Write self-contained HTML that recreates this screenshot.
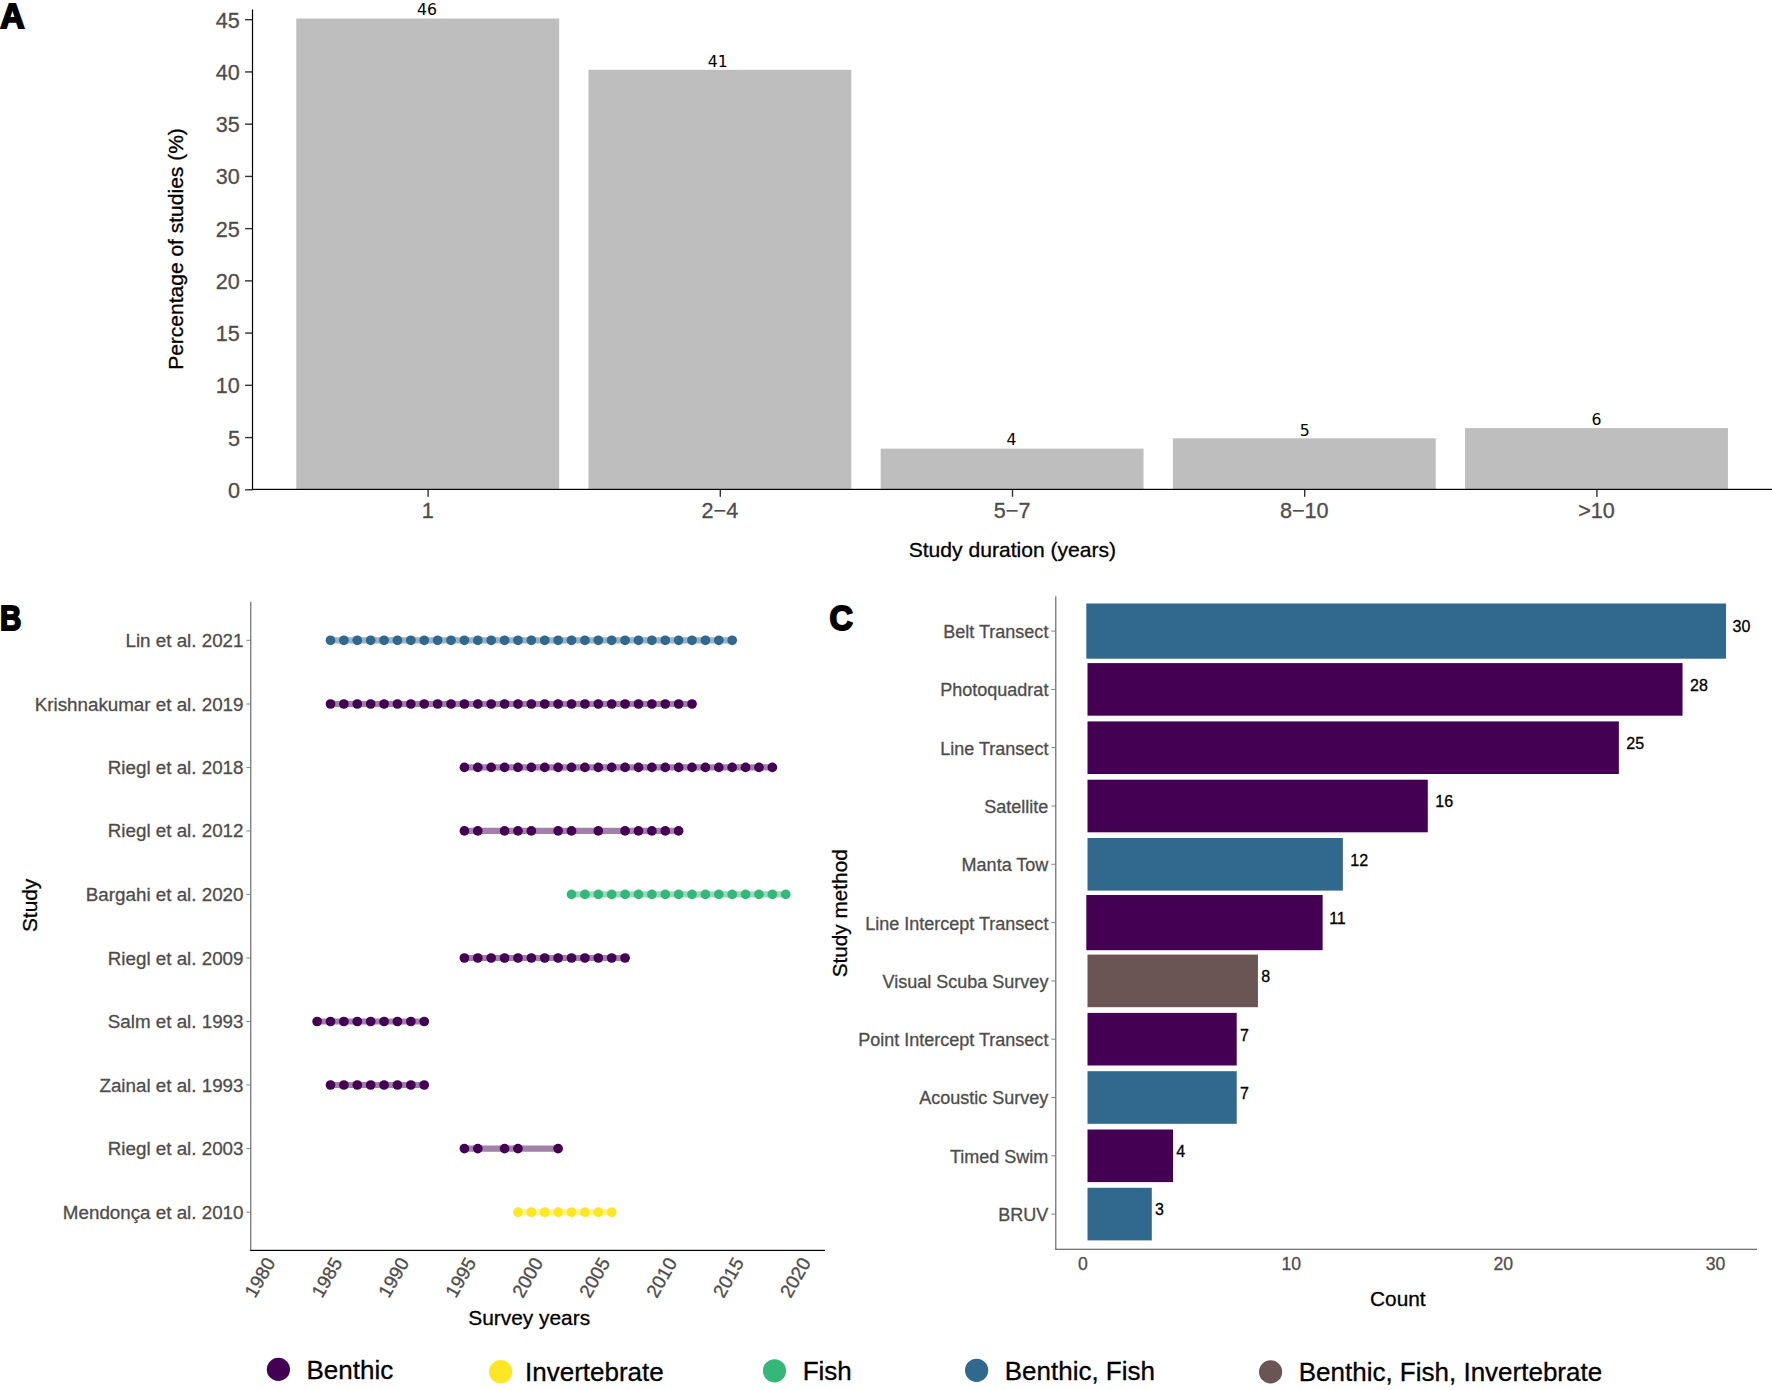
<!DOCTYPE html>
<html lang="en">
<head>
<meta charset="utf-8">
<title>Study duration, survey years and study methods</title>
<style>
html,body{margin:0;padding:0;background:#ffffff;}
body{width:1772px;height:1390px;overflow:hidden;font-family:"Liberation Sans", Arial, Helvetica, sans-serif;}
svg{display:block;}
text{white-space:pre;}
g text[fill="#4d4d4d"]{stroke:#4d4d4d;stroke-width:0.3px;}
g text[fill="#000"]{stroke:#000;stroke-width:0.3px;}
</style>
</head>
<body>
<svg width="1772" height="1390" viewBox="0 0 1772 1390">
<rect x="0" y="0" width="1772" height="1390" fill="#ffffff"/>
<g id="panelA">
<rect x="296.25" y="18.50" width="262.90" height="470.90" fill="#bebebe"/>
<text x="427.10" y="15.30" text-anchor="middle" font-family='"DejaVu Sans", Verdana, sans-serif' font-size="15.7" fill="#000000">46</text>
<rect x="427.40" y="489.40" width="1.4" height="7.4" fill="#333"/>
<text x="427.70" y="518.0" text-anchor="middle" font-family='"Liberation Sans", Arial, Helvetica, sans-serif' font-size="21.6" fill="#4d4d4d">1</text>
<rect x="588.45" y="69.80" width="262.90" height="419.60" fill="#bebebe"/>
<text x="717.80" y="67.00" text-anchor="middle" font-family='"DejaVu Sans", Verdana, sans-serif' font-size="15.7" fill="#000000">41</text>
<rect x="719.60" y="489.40" width="1.4" height="7.4" fill="#333"/>
<text x="719.90" y="518.0" text-anchor="middle" font-family='"Liberation Sans", Arial, Helvetica, sans-serif' font-size="21.6" fill="#4d4d4d">2−4</text>
<rect x="880.65" y="448.60" width="262.90" height="40.80" fill="#bebebe"/>
<text x="1011.40" y="445.10" text-anchor="middle" font-family='"DejaVu Sans", Verdana, sans-serif' font-size="15.7" fill="#000000">4</text>
<rect x="1011.80" y="489.40" width="1.4" height="7.4" fill="#333"/>
<text x="1012.10" y="518.0" text-anchor="middle" font-family='"Liberation Sans", Arial, Helvetica, sans-serif' font-size="21.6" fill="#4d4d4d">5−7</text>
<rect x="1172.85" y="438.30" width="262.90" height="51.10" fill="#bebebe"/>
<text x="1304.80" y="435.90" text-anchor="middle" font-family='"DejaVu Sans", Verdana, sans-serif' font-size="15.7" fill="#000000">5</text>
<rect x="1304.00" y="489.40" width="1.4" height="7.4" fill="#333"/>
<text x="1304.30" y="518.0" text-anchor="middle" font-family='"Liberation Sans", Arial, Helvetica, sans-serif' font-size="21.6" fill="#4d4d4d">8−10</text>
<rect x="1465.05" y="428.10" width="262.90" height="61.30" fill="#bebebe"/>
<text x="1596.60" y="425.10" text-anchor="middle" font-family='"DejaVu Sans", Verdana, sans-serif' font-size="15.7" fill="#000000">6</text>
<rect x="1596.20" y="489.40" width="1.4" height="7.4" fill="#333"/>
<text x="1596.50" y="518.0" text-anchor="middle" font-family='"Liberation Sans", Arial, Helvetica, sans-serif' font-size="21.6" fill="#4d4d4d">>10</text>
<rect x="245.1" y="489.10" width="7.4" height="1.4" fill="#333"/>
<text x="239.9" y="497.80" text-anchor="end" font-family='"Liberation Sans", Arial, Helvetica, sans-serif' font-size="21.6" fill="#4d4d4d">0</text>
<rect x="245.1" y="436.87" width="7.4" height="1.4" fill="#333"/>
<text x="239.9" y="445.57" text-anchor="end" font-family='"Liberation Sans", Arial, Helvetica, sans-serif' font-size="21.6" fill="#4d4d4d">5</text>
<rect x="245.1" y="384.63" width="7.4" height="1.4" fill="#333"/>
<text x="239.9" y="393.33" text-anchor="end" font-family='"Liberation Sans", Arial, Helvetica, sans-serif' font-size="21.6" fill="#4d4d4d">10</text>
<rect x="245.1" y="332.40" width="7.4" height="1.4" fill="#333"/>
<text x="239.9" y="341.10" text-anchor="end" font-family='"Liberation Sans", Arial, Helvetica, sans-serif' font-size="21.6" fill="#4d4d4d">15</text>
<rect x="245.1" y="280.17" width="7.4" height="1.4" fill="#333"/>
<text x="239.9" y="288.87" text-anchor="end" font-family='"Liberation Sans", Arial, Helvetica, sans-serif' font-size="21.6" fill="#4d4d4d">20</text>
<rect x="245.1" y="227.93" width="7.4" height="1.4" fill="#333"/>
<text x="239.9" y="236.63" text-anchor="end" font-family='"Liberation Sans", Arial, Helvetica, sans-serif' font-size="21.6" fill="#4d4d4d">25</text>
<rect x="245.1" y="175.70" width="7.4" height="1.4" fill="#333"/>
<text x="239.9" y="184.40" text-anchor="end" font-family='"Liberation Sans", Arial, Helvetica, sans-serif' font-size="21.6" fill="#4d4d4d">30</text>
<rect x="245.1" y="123.47" width="7.4" height="1.4" fill="#333"/>
<text x="239.9" y="132.17" text-anchor="end" font-family='"Liberation Sans", Arial, Helvetica, sans-serif' font-size="21.6" fill="#4d4d4d">35</text>
<rect x="245.1" y="71.23" width="7.4" height="1.4" fill="#333"/>
<text x="239.9" y="79.93" text-anchor="end" font-family='"Liberation Sans", Arial, Helvetica, sans-serif' font-size="21.6" fill="#4d4d4d">40</text>
<rect x="245.1" y="19.00" width="7.4" height="1.4" fill="#333"/>
<text x="239.9" y="27.70" text-anchor="end" font-family='"Liberation Sans", Arial, Helvetica, sans-serif' font-size="21.6" fill="#4d4d4d">45</text>
<rect x="251.9" y="9.5" width="1.2" height="480.50" fill="#000"/>
<rect x="251.9" y="488.80" width="1520.10" height="1.2" fill="#000"/>
<text x="1012.4" y="556.9" text-anchor="middle" font-family='"Liberation Sans", Arial, Helvetica, sans-serif' font-size="21.1" fill="#000">Study duration (years)</text>
<text transform="translate(183.4,249.0) rotate(-90)" text-anchor="middle" font-family='"Liberation Sans", Arial, Helvetica, sans-serif' font-size="21.0" fill="#000">Percentage of studies (%)</text>
</g>
<text transform="translate(0.2,27.9) scale(0.97,1)" font-family='"Liberation Sans", Arial, Helvetica, sans-serif' font-weight="bold" font-size="34.7" fill="#000" stroke="#000" stroke-width="2.0" stroke-linejoin="miter">A</text>
<text transform="translate(-0.1,630.3) scale(0.84,1)" font-family='"Liberation Sans", Arial, Helvetica, sans-serif' font-weight="bold" font-size="35.2" fill="#000" stroke="#000" stroke-width="2.0" stroke-linejoin="miter">B</text>
<text transform="translate(829.4,630.2) scale(0.93,1)" font-family='"Liberation Sans", Arial, Helvetica, sans-serif' font-weight="bold" font-size="34.9" fill="#000" stroke="#000" stroke-width="2.0" stroke-linejoin="miter">C</text>
<g id="panelB">
<line x1="330.50" y1="640.3" x2="732.20" y2="640.3" stroke="#31688e" stroke-opacity="0.5" stroke-width="6.2"/>
<circle cx="330.50" cy="640.3" r="4.85" fill="#31688e"/>
<circle cx="343.89" cy="640.3" r="4.85" fill="#31688e"/>
<circle cx="357.28" cy="640.3" r="4.85" fill="#31688e"/>
<circle cx="370.67" cy="640.3" r="4.85" fill="#31688e"/>
<circle cx="384.06" cy="640.3" r="4.85" fill="#31688e"/>
<circle cx="397.45" cy="640.3" r="4.85" fill="#31688e"/>
<circle cx="410.84" cy="640.3" r="4.85" fill="#31688e"/>
<circle cx="424.23" cy="640.3" r="4.85" fill="#31688e"/>
<circle cx="437.62" cy="640.3" r="4.85" fill="#31688e"/>
<circle cx="451.01" cy="640.3" r="4.85" fill="#31688e"/>
<circle cx="464.40" cy="640.3" r="4.85" fill="#31688e"/>
<circle cx="477.79" cy="640.3" r="4.85" fill="#31688e"/>
<circle cx="491.18" cy="640.3" r="4.85" fill="#31688e"/>
<circle cx="504.57" cy="640.3" r="4.85" fill="#31688e"/>
<circle cx="517.96" cy="640.3" r="4.85" fill="#31688e"/>
<circle cx="531.35" cy="640.3" r="4.85" fill="#31688e"/>
<circle cx="544.74" cy="640.3" r="4.85" fill="#31688e"/>
<circle cx="558.13" cy="640.3" r="4.85" fill="#31688e"/>
<circle cx="571.52" cy="640.3" r="4.85" fill="#31688e"/>
<circle cx="584.91" cy="640.3" r="4.85" fill="#31688e"/>
<circle cx="598.30" cy="640.3" r="4.85" fill="#31688e"/>
<circle cx="611.69" cy="640.3" r="4.85" fill="#31688e"/>
<circle cx="625.08" cy="640.3" r="4.85" fill="#31688e"/>
<circle cx="638.47" cy="640.3" r="4.85" fill="#31688e"/>
<circle cx="651.86" cy="640.3" r="4.85" fill="#31688e"/>
<circle cx="665.25" cy="640.3" r="4.85" fill="#31688e"/>
<circle cx="678.64" cy="640.3" r="4.85" fill="#31688e"/>
<circle cx="692.03" cy="640.3" r="4.85" fill="#31688e"/>
<circle cx="705.42" cy="640.3" r="4.85" fill="#31688e"/>
<circle cx="718.81" cy="640.3" r="4.85" fill="#31688e"/>
<circle cx="732.20" cy="640.3" r="4.85" fill="#31688e"/>
<rect x="246.3" y="639.80" width="4.2" height="1" fill="#888"/>
<text x="243.5" y="646.80" text-anchor="end" font-family='"Liberation Sans", Arial, Helvetica, sans-serif' font-size="18.8" fill="#4d4d4d">Lin et al. 2021</text>
<line x1="330.50" y1="704.0" x2="692.03" y2="704.0" stroke="#440154" stroke-opacity="0.5" stroke-width="6.2"/>
<circle cx="330.50" cy="704.0" r="4.85" fill="#440154"/>
<circle cx="343.89" cy="704.0" r="4.85" fill="#440154"/>
<circle cx="357.28" cy="704.0" r="4.85" fill="#440154"/>
<circle cx="370.67" cy="704.0" r="4.85" fill="#440154"/>
<circle cx="384.06" cy="704.0" r="4.85" fill="#440154"/>
<circle cx="397.45" cy="704.0" r="4.85" fill="#440154"/>
<circle cx="410.84" cy="704.0" r="4.85" fill="#440154"/>
<circle cx="424.23" cy="704.0" r="4.85" fill="#440154"/>
<circle cx="437.62" cy="704.0" r="4.85" fill="#440154"/>
<circle cx="451.01" cy="704.0" r="4.85" fill="#440154"/>
<circle cx="464.40" cy="704.0" r="4.85" fill="#440154"/>
<circle cx="477.79" cy="704.0" r="4.85" fill="#440154"/>
<circle cx="491.18" cy="704.0" r="4.85" fill="#440154"/>
<circle cx="504.57" cy="704.0" r="4.85" fill="#440154"/>
<circle cx="517.96" cy="704.0" r="4.85" fill="#440154"/>
<circle cx="531.35" cy="704.0" r="4.85" fill="#440154"/>
<circle cx="544.74" cy="704.0" r="4.85" fill="#440154"/>
<circle cx="558.13" cy="704.0" r="4.85" fill="#440154"/>
<circle cx="571.52" cy="704.0" r="4.85" fill="#440154"/>
<circle cx="584.91" cy="704.0" r="4.85" fill="#440154"/>
<circle cx="598.30" cy="704.0" r="4.85" fill="#440154"/>
<circle cx="611.69" cy="704.0" r="4.85" fill="#440154"/>
<circle cx="625.08" cy="704.0" r="4.85" fill="#440154"/>
<circle cx="638.47" cy="704.0" r="4.85" fill="#440154"/>
<circle cx="651.86" cy="704.0" r="4.85" fill="#440154"/>
<circle cx="665.25" cy="704.0" r="4.85" fill="#440154"/>
<circle cx="678.64" cy="704.0" r="4.85" fill="#440154"/>
<circle cx="692.03" cy="704.0" r="4.85" fill="#440154"/>
<rect x="246.3" y="703.50" width="4.2" height="1" fill="#888"/>
<text x="243.5" y="710.50" text-anchor="end" font-family='"Liberation Sans", Arial, Helvetica, sans-serif' font-size="18.8" fill="#4d4d4d">Krishnakumar et al. 2019</text>
<line x1="464.40" y1="767.4" x2="772.37" y2="767.4" stroke="#440154" stroke-opacity="0.5" stroke-width="6.2"/>
<circle cx="464.40" cy="767.4" r="4.85" fill="#440154"/>
<circle cx="477.79" cy="767.4" r="4.85" fill="#440154"/>
<circle cx="491.18" cy="767.4" r="4.85" fill="#440154"/>
<circle cx="504.57" cy="767.4" r="4.85" fill="#440154"/>
<circle cx="517.96" cy="767.4" r="4.85" fill="#440154"/>
<circle cx="531.35" cy="767.4" r="4.85" fill="#440154"/>
<circle cx="544.74" cy="767.4" r="4.85" fill="#440154"/>
<circle cx="558.13" cy="767.4" r="4.85" fill="#440154"/>
<circle cx="571.52" cy="767.4" r="4.85" fill="#440154"/>
<circle cx="584.91" cy="767.4" r="4.85" fill="#440154"/>
<circle cx="598.30" cy="767.4" r="4.85" fill="#440154"/>
<circle cx="611.69" cy="767.4" r="4.85" fill="#440154"/>
<circle cx="625.08" cy="767.4" r="4.85" fill="#440154"/>
<circle cx="638.47" cy="767.4" r="4.85" fill="#440154"/>
<circle cx="651.86" cy="767.4" r="4.85" fill="#440154"/>
<circle cx="665.25" cy="767.4" r="4.85" fill="#440154"/>
<circle cx="678.64" cy="767.4" r="4.85" fill="#440154"/>
<circle cx="692.03" cy="767.4" r="4.85" fill="#440154"/>
<circle cx="705.42" cy="767.4" r="4.85" fill="#440154"/>
<circle cx="718.81" cy="767.4" r="4.85" fill="#440154"/>
<circle cx="732.20" cy="767.4" r="4.85" fill="#440154"/>
<circle cx="745.59" cy="767.4" r="4.85" fill="#440154"/>
<circle cx="758.98" cy="767.4" r="4.85" fill="#440154"/>
<circle cx="772.37" cy="767.4" r="4.85" fill="#440154"/>
<rect x="246.3" y="766.90" width="4.2" height="1" fill="#888"/>
<text x="243.5" y="773.90" text-anchor="end" font-family='"Liberation Sans", Arial, Helvetica, sans-serif' font-size="18.8" fill="#4d4d4d">Riegl et al. 2018</text>
<line x1="464.40" y1="830.9" x2="678.64" y2="830.9" stroke="#440154" stroke-opacity="0.5" stroke-width="6.2"/>
<circle cx="464.40" cy="830.9" r="4.85" fill="#440154"/>
<circle cx="477.79" cy="830.9" r="4.85" fill="#440154"/>
<circle cx="504.57" cy="830.9" r="4.85" fill="#440154"/>
<circle cx="517.96" cy="830.9" r="4.85" fill="#440154"/>
<circle cx="531.35" cy="830.9" r="4.85" fill="#440154"/>
<circle cx="558.13" cy="830.9" r="4.85" fill="#440154"/>
<circle cx="571.52" cy="830.9" r="4.85" fill="#440154"/>
<circle cx="598.30" cy="830.9" r="4.85" fill="#440154"/>
<circle cx="625.08" cy="830.9" r="4.85" fill="#440154"/>
<circle cx="638.47" cy="830.9" r="4.85" fill="#440154"/>
<circle cx="651.86" cy="830.9" r="4.85" fill="#440154"/>
<circle cx="665.25" cy="830.9" r="4.85" fill="#440154"/>
<circle cx="678.64" cy="830.9" r="4.85" fill="#440154"/>
<rect x="246.3" y="830.40" width="4.2" height="1" fill="#888"/>
<text x="243.5" y="837.40" text-anchor="end" font-family='"Liberation Sans", Arial, Helvetica, sans-serif' font-size="18.8" fill="#4d4d4d">Riegl et al. 2012</text>
<line x1="571.52" y1="894.4" x2="785.76" y2="894.4" stroke="#35b779" stroke-opacity="0.5" stroke-width="6.2"/>
<circle cx="571.52" cy="894.4" r="4.85" fill="#35b779"/>
<circle cx="584.91" cy="894.4" r="4.85" fill="#35b779"/>
<circle cx="598.30" cy="894.4" r="4.85" fill="#35b779"/>
<circle cx="611.69" cy="894.4" r="4.85" fill="#35b779"/>
<circle cx="625.08" cy="894.4" r="4.85" fill="#35b779"/>
<circle cx="638.47" cy="894.4" r="4.85" fill="#35b779"/>
<circle cx="651.86" cy="894.4" r="4.85" fill="#35b779"/>
<circle cx="665.25" cy="894.4" r="4.85" fill="#35b779"/>
<circle cx="678.64" cy="894.4" r="4.85" fill="#35b779"/>
<circle cx="692.03" cy="894.4" r="4.85" fill="#35b779"/>
<circle cx="705.42" cy="894.4" r="4.85" fill="#35b779"/>
<circle cx="718.81" cy="894.4" r="4.85" fill="#35b779"/>
<circle cx="732.20" cy="894.4" r="4.85" fill="#35b779"/>
<circle cx="745.59" cy="894.4" r="4.85" fill="#35b779"/>
<circle cx="758.98" cy="894.4" r="4.85" fill="#35b779"/>
<circle cx="772.37" cy="894.4" r="4.85" fill="#35b779"/>
<circle cx="785.76" cy="894.4" r="4.85" fill="#35b779"/>
<rect x="246.3" y="893.90" width="4.2" height="1" fill="#888"/>
<text x="243.5" y="900.90" text-anchor="end" font-family='"Liberation Sans", Arial, Helvetica, sans-serif' font-size="18.8" fill="#4d4d4d">Bargahi et al. 2020</text>
<line x1="464.40" y1="958.0" x2="625.08" y2="958.0" stroke="#440154" stroke-opacity="0.5" stroke-width="6.2"/>
<circle cx="464.40" cy="958.0" r="4.85" fill="#440154"/>
<circle cx="477.79" cy="958.0" r="4.85" fill="#440154"/>
<circle cx="491.18" cy="958.0" r="4.85" fill="#440154"/>
<circle cx="504.57" cy="958.0" r="4.85" fill="#440154"/>
<circle cx="517.96" cy="958.0" r="4.85" fill="#440154"/>
<circle cx="531.35" cy="958.0" r="4.85" fill="#440154"/>
<circle cx="544.74" cy="958.0" r="4.85" fill="#440154"/>
<circle cx="558.13" cy="958.0" r="4.85" fill="#440154"/>
<circle cx="571.52" cy="958.0" r="4.85" fill="#440154"/>
<circle cx="584.91" cy="958.0" r="4.85" fill="#440154"/>
<circle cx="598.30" cy="958.0" r="4.85" fill="#440154"/>
<circle cx="611.69" cy="958.0" r="4.85" fill="#440154"/>
<circle cx="625.08" cy="958.0" r="4.85" fill="#440154"/>
<rect x="246.3" y="957.50" width="4.2" height="1" fill="#888"/>
<text x="243.5" y="964.50" text-anchor="end" font-family='"Liberation Sans", Arial, Helvetica, sans-serif' font-size="18.8" fill="#4d4d4d">Riegl et al. 2009</text>
<line x1="317.11" y1="1021.5" x2="424.23" y2="1021.5" stroke="#440154" stroke-opacity="0.5" stroke-width="6.2"/>
<circle cx="317.11" cy="1021.5" r="4.85" fill="#440154"/>
<circle cx="330.50" cy="1021.5" r="4.85" fill="#440154"/>
<circle cx="343.89" cy="1021.5" r="4.85" fill="#440154"/>
<circle cx="357.28" cy="1021.5" r="4.85" fill="#440154"/>
<circle cx="370.67" cy="1021.5" r="4.85" fill="#440154"/>
<circle cx="384.06" cy="1021.5" r="4.85" fill="#440154"/>
<circle cx="397.45" cy="1021.5" r="4.85" fill="#440154"/>
<circle cx="410.84" cy="1021.5" r="4.85" fill="#440154"/>
<circle cx="424.23" cy="1021.5" r="4.85" fill="#440154"/>
<rect x="246.3" y="1021.00" width="4.2" height="1" fill="#888"/>
<text x="243.5" y="1028.00" text-anchor="end" font-family='"Liberation Sans", Arial, Helvetica, sans-serif' font-size="18.8" fill="#4d4d4d">Salm et al. 1993</text>
<line x1="330.50" y1="1085.0" x2="424.23" y2="1085.0" stroke="#440154" stroke-opacity="0.5" stroke-width="6.2"/>
<circle cx="330.50" cy="1085.0" r="4.85" fill="#440154"/>
<circle cx="343.89" cy="1085.0" r="4.85" fill="#440154"/>
<circle cx="357.28" cy="1085.0" r="4.85" fill="#440154"/>
<circle cx="370.67" cy="1085.0" r="4.85" fill="#440154"/>
<circle cx="384.06" cy="1085.0" r="4.85" fill="#440154"/>
<circle cx="397.45" cy="1085.0" r="4.85" fill="#440154"/>
<circle cx="410.84" cy="1085.0" r="4.85" fill="#440154"/>
<circle cx="424.23" cy="1085.0" r="4.85" fill="#440154"/>
<rect x="246.3" y="1084.50" width="4.2" height="1" fill="#888"/>
<text x="243.5" y="1091.50" text-anchor="end" font-family='"Liberation Sans", Arial, Helvetica, sans-serif' font-size="18.8" fill="#4d4d4d">Zainal et al. 1993</text>
<line x1="464.40" y1="1148.6" x2="558.13" y2="1148.6" stroke="#440154" stroke-opacity="0.5" stroke-width="6.2"/>
<circle cx="464.40" cy="1148.6" r="4.85" fill="#440154"/>
<circle cx="477.79" cy="1148.6" r="4.85" fill="#440154"/>
<circle cx="504.57" cy="1148.6" r="4.85" fill="#440154"/>
<circle cx="517.96" cy="1148.6" r="4.85" fill="#440154"/>
<circle cx="558.13" cy="1148.6" r="4.85" fill="#440154"/>
<rect x="246.3" y="1148.10" width="4.2" height="1" fill="#888"/>
<text x="243.5" y="1155.10" text-anchor="end" font-family='"Liberation Sans", Arial, Helvetica, sans-serif' font-size="18.8" fill="#4d4d4d">Riegl et al. 2003</text>
<line x1="517.96" y1="1212.2" x2="611.69" y2="1212.2" stroke="#fde725" stroke-opacity="0.5" stroke-width="6.2"/>
<circle cx="517.96" cy="1212.2" r="4.85" fill="#fde725"/>
<circle cx="531.35" cy="1212.2" r="4.85" fill="#fde725"/>
<circle cx="544.74" cy="1212.2" r="4.85" fill="#fde725"/>
<circle cx="558.13" cy="1212.2" r="4.85" fill="#fde725"/>
<circle cx="571.52" cy="1212.2" r="4.85" fill="#fde725"/>
<circle cx="584.91" cy="1212.2" r="4.85" fill="#fde725"/>
<circle cx="598.30" cy="1212.2" r="4.85" fill="#fde725"/>
<circle cx="611.69" cy="1212.2" r="4.85" fill="#fde725"/>
<rect x="246.3" y="1211.70" width="4.2" height="1" fill="#888"/>
<text x="243.5" y="1218.70" text-anchor="end" font-family='"Liberation Sans", Arial, Helvetica, sans-serif' font-size="18.8" fill="#4d4d4d">Mendonça et al. 2010</text>
<rect x="250.2" y="601.8" width="1.15" height="648.60" fill="#666"/>
<rect x="250.2" y="1249.80" width="574.80" height="1.2" fill="#000"/>
<text transform="translate(264.35,1255.8) rotate(-60)" text-anchor="end" dy="13.4" font-family='"Liberation Sans", Arial, Helvetica, sans-serif' font-size="18.9" fill="#4d4d4d">1980</text>
<text transform="translate(331.30,1255.8) rotate(-60)" text-anchor="end" dy="13.4" font-family='"Liberation Sans", Arial, Helvetica, sans-serif' font-size="18.9" fill="#4d4d4d">1985</text>
<text transform="translate(398.25,1255.8) rotate(-60)" text-anchor="end" dy="13.4" font-family='"Liberation Sans", Arial, Helvetica, sans-serif' font-size="18.9" fill="#4d4d4d">1990</text>
<text transform="translate(465.20,1255.8) rotate(-60)" text-anchor="end" dy="13.4" font-family='"Liberation Sans", Arial, Helvetica, sans-serif' font-size="18.9" fill="#4d4d4d">1995</text>
<text transform="translate(532.15,1255.8) rotate(-60)" text-anchor="end" dy="13.4" font-family='"Liberation Sans", Arial, Helvetica, sans-serif' font-size="18.9" fill="#4d4d4d">2000</text>
<text transform="translate(599.10,1255.8) rotate(-60)" text-anchor="end" dy="13.4" font-family='"Liberation Sans", Arial, Helvetica, sans-serif' font-size="18.9" fill="#4d4d4d">2005</text>
<text transform="translate(666.05,1255.8) rotate(-60)" text-anchor="end" dy="13.4" font-family='"Liberation Sans", Arial, Helvetica, sans-serif' font-size="18.9" fill="#4d4d4d">2010</text>
<text transform="translate(733.00,1255.8) rotate(-60)" text-anchor="end" dy="13.4" font-family='"Liberation Sans", Arial, Helvetica, sans-serif' font-size="18.9" fill="#4d4d4d">2015</text>
<text transform="translate(799.95,1255.8) rotate(-60)" text-anchor="end" dy="13.4" font-family='"Liberation Sans", Arial, Helvetica, sans-serif' font-size="18.9" fill="#4d4d4d">2020</text>
<text x="529.2" y="1325.3" text-anchor="middle" font-family='"Liberation Sans", Arial, Helvetica, sans-serif' font-size="20.9" fill="#000">Survey years</text>
<text transform="translate(37.3,905.4) rotate(-90)" text-anchor="middle" font-family='"Liberation Sans", Arial, Helvetica, sans-serif' font-size="20.9" fill="#000">Study</text>
</g>
<g id="panelC">
<rect x="1086.30" y="603.50" width="639.70" height="55.20" fill="#31688e"/>
<text x="1732.50" y="632.40" font-family='"Liberation Sans", Arial, Helvetica, sans-serif' font-size="16" fill="#000">30</text>
<rect x="1051.3" y="630.60" width="4.2" height="1" fill="#888"/>
<text x="1048.4" y="638.00" text-anchor="end" font-family='"Liberation Sans", Arial, Helvetica, sans-serif' font-size="18.03" fill="#4d4d4d">Belt Transect</text>
<rect x="1087.50" y="663.10" width="595.04" height="52.60" fill="#440154"/>
<text x="1690.04" y="690.70" font-family='"Liberation Sans", Arial, Helvetica, sans-serif' font-size="16" fill="#000">28</text>
<rect x="1051.3" y="688.90" width="4.2" height="1" fill="#888"/>
<text x="1048.4" y="696.30" text-anchor="end" font-family='"Liberation Sans", Arial, Helvetica, sans-serif' font-size="18.03" fill="#4d4d4d">Photoquadrat</text>
<rect x="1087.50" y="721.40" width="531.35" height="52.60" fill="#440154"/>
<text x="1626.35" y="749.00" font-family='"Liberation Sans", Arial, Helvetica, sans-serif' font-size="16" fill="#000">25</text>
<rect x="1051.3" y="747.20" width="4.2" height="1" fill="#888"/>
<text x="1048.4" y="754.60" text-anchor="end" font-family='"Liberation Sans", Arial, Helvetica, sans-serif' font-size="18.03" fill="#4d4d4d">Line Transect</text>
<rect x="1087.50" y="779.70" width="340.28" height="52.60" fill="#440154"/>
<text x="1435.28" y="807.30" font-family='"Liberation Sans", Arial, Helvetica, sans-serif' font-size="16" fill="#000">16</text>
<rect x="1051.3" y="805.50" width="4.2" height="1" fill="#888"/>
<text x="1048.4" y="812.90" text-anchor="end" font-family='"Liberation Sans", Arial, Helvetica, sans-serif' font-size="18.03" fill="#4d4d4d">Satellite</text>
<rect x="1087.50" y="838.00" width="255.36" height="52.60" fill="#31688e"/>
<text x="1350.36" y="865.60" font-family='"Liberation Sans", Arial, Helvetica, sans-serif' font-size="16" fill="#000">12</text>
<rect x="1051.3" y="863.80" width="4.2" height="1" fill="#888"/>
<text x="1048.4" y="871.20" text-anchor="end" font-family='"Liberation Sans", Arial, Helvetica, sans-serif' font-size="18.03" fill="#4d4d4d">Manta Tow</text>
<rect x="1086.30" y="895.00" width="236.33" height="55.20" fill="#440154"/>
<text x="1329.13" y="923.90" font-family='"Liberation Sans", Arial, Helvetica, sans-serif' font-size="16" fill="#000">11</text>
<rect x="1051.3" y="922.10" width="4.2" height="1" fill="#888"/>
<text x="1048.4" y="929.50" text-anchor="end" font-family='"Liberation Sans", Arial, Helvetica, sans-serif' font-size="18.03" fill="#4d4d4d">Line Intercept Transect</text>
<rect x="1087.50" y="954.60" width="170.44" height="52.60" fill="#6b5454"/>
<text x="1261.14" y="982.20" font-family='"Liberation Sans", Arial, Helvetica, sans-serif' font-size="16" fill="#000">8</text>
<rect x="1051.3" y="980.40" width="4.2" height="1" fill="#888"/>
<text x="1048.4" y="987.80" text-anchor="end" font-family='"Liberation Sans", Arial, Helvetica, sans-serif' font-size="18.03" fill="#4d4d4d">Visual Scuba Survey</text>
<rect x="1087.50" y="1012.90" width="149.21" height="52.60" fill="#440154"/>
<text x="1239.91" y="1040.50" font-family='"Liberation Sans", Arial, Helvetica, sans-serif' font-size="16" fill="#000">7</text>
<rect x="1051.3" y="1038.70" width="4.2" height="1" fill="#888"/>
<text x="1048.4" y="1046.10" text-anchor="end" font-family='"Liberation Sans", Arial, Helvetica, sans-serif' font-size="18.03" fill="#4d4d4d">Point Intercept Transect</text>
<rect x="1087.50" y="1071.20" width="149.21" height="52.60" fill="#31688e"/>
<text x="1239.91" y="1098.80" font-family='"Liberation Sans", Arial, Helvetica, sans-serif' font-size="16" fill="#000">7</text>
<rect x="1051.3" y="1097.00" width="4.2" height="1" fill="#888"/>
<text x="1048.4" y="1104.40" text-anchor="end" font-family='"Liberation Sans", Arial, Helvetica, sans-serif' font-size="18.03" fill="#4d4d4d">Acoustic Survey</text>
<rect x="1087.50" y="1129.50" width="85.52" height="52.60" fill="#440154"/>
<text x="1176.22" y="1157.10" font-family='"Liberation Sans", Arial, Helvetica, sans-serif' font-size="16" fill="#000">4</text>
<rect x="1051.3" y="1155.30" width="4.2" height="1" fill="#888"/>
<text x="1048.4" y="1162.70" text-anchor="end" font-family='"Liberation Sans", Arial, Helvetica, sans-serif' font-size="18.03" fill="#4d4d4d">Timed Swim</text>
<rect x="1087.50" y="1187.80" width="64.29" height="52.60" fill="#31688e"/>
<text x="1154.99" y="1215.40" font-family='"Liberation Sans", Arial, Helvetica, sans-serif' font-size="16" fill="#000">3</text>
<rect x="1051.3" y="1213.60" width="4.2" height="1" fill="#888"/>
<text x="1048.4" y="1221.00" text-anchor="end" font-family='"Liberation Sans", Arial, Helvetica, sans-serif' font-size="18.03" fill="#4d4d4d">BRUV</text>
<rect x="1055.2" y="596.3" width="1.15" height="653.00" fill="#666"/>
<rect x="1055.2" y="1248.70" width="701.80" height="1.2" fill="#666"/>
<text x="1083" y="1269.5" text-anchor="middle" font-family='"Liberation Sans", Arial, Helvetica, sans-serif' font-size="17.6" fill="#4d4d4d">0</text>
<text x="1291.3" y="1269.5" text-anchor="middle" font-family='"Liberation Sans", Arial, Helvetica, sans-serif' font-size="17.6" fill="#4d4d4d">10</text>
<text x="1503.3" y="1269.5" text-anchor="middle" font-family='"Liberation Sans", Arial, Helvetica, sans-serif' font-size="17.6" fill="#4d4d4d">20</text>
<text x="1715.5" y="1269.5" text-anchor="middle" font-family='"Liberation Sans", Arial, Helvetica, sans-serif' font-size="17.6" fill="#4d4d4d">30</text>
<text x="1397.8" y="1305.5" text-anchor="middle" font-family='"Liberation Sans", Arial, Helvetica, sans-serif' font-size="20.8" fill="#000">Count</text>
<text transform="translate(846.5,913.3) rotate(-90)" text-anchor="middle" font-family='"Liberation Sans", Arial, Helvetica, sans-serif' font-size="20.77" fill="#000">Study method</text>
</g>
<g id="legend">
<circle cx="278.4" cy="1369.4" r="11.6" fill="#440154"/>
<text x="306.5" y="1378.7" font-family='"Liberation Sans", Arial, Helvetica, sans-serif' font-size="26" fill="#000">Benthic</text>
<circle cx="500.6" cy="1371.7" r="11.6" fill="#fde725"/>
<text x="525.0" y="1380.7" font-family='"Liberation Sans", Arial, Helvetica, sans-serif' font-size="26" fill="#000">Invertebrate</text>
<circle cx="774.5" cy="1370.8" r="11.6" fill="#35b779"/>
<text x="802.7" y="1380.0" font-family='"Liberation Sans", Arial, Helvetica, sans-serif' font-size="26" fill="#000">Fish</text>
<circle cx="976.6" cy="1370.3" r="11.6" fill="#31688e"/>
<text x="1004.7" y="1379.5" font-family='"Liberation Sans", Arial, Helvetica, sans-serif' font-size="26" fill="#000">Benthic, Fish</text>
<circle cx="1270.6" cy="1371.9" r="11.6" fill="#6b5454"/>
<text x="1298.7" y="1381.2" font-family='"Liberation Sans", Arial, Helvetica, sans-serif' font-size="26" fill="#000">Benthic, Fish, Invertebrate</text>
</g>
</svg>
</body>
</html>
